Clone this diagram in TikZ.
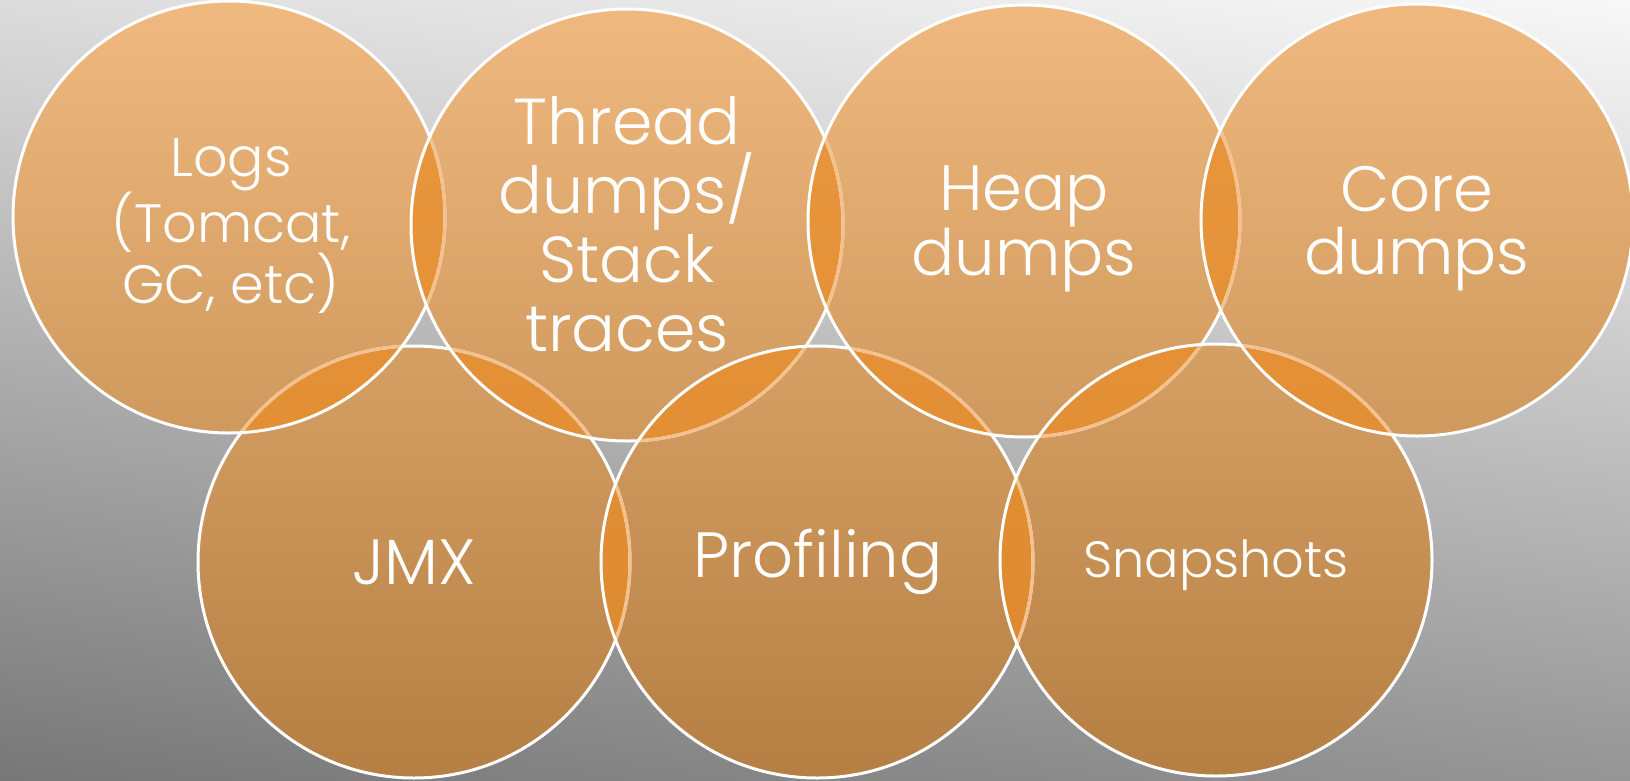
\documentclass[tikz,border=0pt]{standalone}
\usepackage{fontspec}
\setmainfont{Poppins}[UprightFont={* Light}]
\usetikzlibrary{shadings}
\definecolor{bgTL}{HTML}{DCDCDC}
\definecolor{bgTR}{HTML}{F8F8F8}
\definecolor{bgBL}{HTML}{777777}
\definecolor{bgBR}{HTML}{959595}
\definecolor{ctop}{HTML}{F0B97F}
\definecolor{cbot}{HTML}{B57E42}
\definecolor{ltop}{HTML}{EA983F}
\definecolor{lbot}{HTML}{DB872E}
\definecolor{covered}{HTML}{F4C08C}
\tikzset{
  ring/.style={draw=white, line width=3pt},
  ringcov/.style={draw=covered, line width=3pt},
  lbl/.style={text=white, align=center, inner sep=0pt},
}
\newcommand{\R}{216pt}
\begin{document}
\begin{tikzpicture}[x=1pt,y=-1pt]
\clip (0,0) rectangle (1630,780);
\shade[upper left=bgTL, upper right=bgTR, lower left=bgBL, lower right=bgBR] (0,0) rectangle (1630,780);
% centres
\coordinate (logs) at (229,217);
\coordinate (thread) at (627,225);
\coordinate (heap) at (1024,221);
\coordinate (core) at (1417,220);
\coordinate (jmx) at (414,562);
\coordinate (prof) at (817,562);
\coordinate (snap) at (1216,560);
% circle fills (global gradient)
\begin{scope}
\clip (logs) circle[radius=\R] (thread) circle[radius=\R] (heap) circle[radius=\R] (core) circle[radius=\R] (jmx) circle[radius=\R] (prof) circle[radius=\R] (snap) circle[radius=\R];
\shade[top color=ctop, bottom color=cbot] (0,0) rectangle (1630,780);
\end{scope}
% lenses
\foreach \a/\b in {logs/thread, thread/heap, heap/core, jmx/prof, prof/snap, logs/jmx, thread/jmx, thread/prof, heap/prof, heap/snap, core/snap}{
  \begin{scope}
  \clip (\a) circle[radius=\R];
  \clip (\b) circle[radius=\R];
  \shade[top color=ltop, bottom color=lbot] (0,0) rectangle (1630,780);
  \end{scope}
}
% outlines in stacking order: jmx, logs, thread, prof, heap, snap, core
\draw[ring] (jmx) circle[radius=\R];
\begin{scope}\clip (logs) circle[radius=\R];
\draw[ringcov] (jmx) circle[radius=\R];
\end{scope}
\draw[ring] (logs) circle[radius=\R];
\begin{scope}\clip (thread) circle[radius=\R];
\draw[ringcov] (jmx) circle[radius=\R] (logs) circle[radius=\R];
\end{scope}
\draw[ring] (thread) circle[radius=\R];
\begin{scope}\clip (prof) circle[radius=\R];
\draw[ringcov] (jmx) circle[radius=\R] (thread) circle[radius=\R];
\end{scope}
\draw[ring] (prof) circle[radius=\R];
\begin{scope}\clip (heap) circle[radius=\R];
\draw[ringcov] (thread) circle[radius=\R] (prof) circle[radius=\R];
\end{scope}
\draw[ring] (heap) circle[radius=\R];
\begin{scope}\clip (snap) circle[radius=\R];
\draw[ringcov] (prof) circle[radius=\R] (heap) circle[radius=\R];
\end{scope}
\draw[ring] (snap) circle[radius=\R];
\begin{scope}\clip (core) circle[radius=\R];
\draw[ringcov] (heap) circle[radius=\R] (snap) circle[radius=\R];
\end{scope}
\draw[ring] (core) circle[radius=\R];
% labels
\node[lbl, font=\fontsize{54}{61}\selectfont] (logsT) at (231,226) {Logs\\(Tomcat,\\GC, etc)};
\node[lbl, font=\fontsize{65}{69}\selectfont] (threadT) at (627,224) {Thread\\dumps/\\Stack\\traces};
\node[lbl, font=\fontsize{64}{63}\selectfont] (heapT) at (1024,229) {Heap\\dumps};
\node[lbl, font=\fontsize{64}{63}\selectfont] (coreT) at (1417,229) {Core\\dumps};
\node[lbl, font=\fontsize{64}{66}\selectfont] (jmxT) at (414,562) {JMX};
\node[lbl, font=\fontsize{64}{66}\selectfont] (profT) at (818,562) {Profiling};
\node[lbl, font=\fontsize{51}{60}\selectfont] (snapT) at (1216,565) {Snapshots};
\end{tikzpicture}
\end{document}
